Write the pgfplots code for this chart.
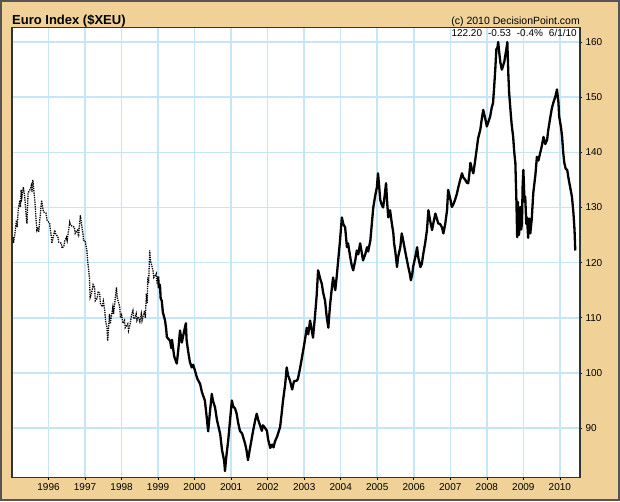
\documentclass[border=0pt]{standalone}
\usepackage{fontspec}
\setmainfont{Liberation Sans}
\usepackage{pgfplots}
\pgfplotsset{compat=1.18}
\definecolor{bgtan}{RGB}{240,210,152}
\definecolor{frame}{RGB}{85,85,85}
\definecolor{gridblue}{RGB}{198,230,248}
\begin{document}
\begin{tikzpicture}[x=1pt,y=1pt]
\fill[bgtan] (0,0) rectangle (620,501);
\draw[frame, line width=2pt] (1,1) rectangle (619,500);
\begin{axis}[
  at={(12pt,23.3pt)}, anchor=south west,
  scale only axis, width=568pt, height=450pt,
  xmin=1995.0, xmax=2010.55, ymin=81, ymax=162.6,
  axis background/.style={fill=white},
  xtick={1996,1997,...,2010},
  ytick={90,100,...,160},
  xticklabel style={/pgf/number format/1000 sep={}},
  /pgf/number format/assume math mode=true,
  tick label style={font=\fontsize{10}{11}\selectfont},
  yticklabel pos=right,
  ytick pos=right, xtick pos=bottom,
  tick align=outside, major tick length=2pt,
  tick style={black, line width=0.6pt},
  grid=major,
  major grid style={gridblue, line width=1.5pt},
  axis line style={black!80, line width=1.3pt},
  clip=true,
]
% early synthetic period, dotted
\addplot[black, densely dotted, line width=1.3pt] table {
1995.03 124.6
1995.04 123.5
1995.08 125.3
1995.12 127.7
1995.14 126.4
1995.17 129.5
1995.21 131.3
1995.23 130.1
1995.25 133.2
1995.27 131.9
1995.31 133.7
1995.35 131.9
1995.39 128.2
1995.41 127.1
1995.44 132.6
1995.49 133.2
1995.53 134.0
1995.55 132.8
1995.57 135.0
1995.59 133.7
1995.63 130.8
1995.66 127.7
1995.68 125.9
1995.71 126.4
1995.73 125.5
1995.81 131.3
1995.84 130.1
1995.86 129.2
1995.93 129.0
1995.96 127.7
1996.03 127.1
1996.05 125.9
1996.08 124.6
1996.09 123.5
1996.17 125.9
1996.19 125.3
1996.26 124.6
1996.28 123.7
1996.35 123.5
1996.37 122.6
1996.42 123.0
1996.45 124.0
1996.49 124.6
1996.51 124.0
1996.58 127.3
1996.60 126.8
1996.71 126.4
1996.73 125.3
1996.80 125.9
1996.82 124.6
1996.87 128.6
1996.89 127.7
1996.94 125.3
1996.96 124.0
1997.00 124.0
1997.05 122.2
1997.07 120.4
1997.10 118.6
1997.12 117.3
1997.13 115.5
1997.14 113.7
1997.18 114.5
1997.22 116.0
1997.26 115.5
1997.28 113.1
1997.33 113.5
1997.36 114.8
1997.40 114.4
1997.42 112.6
1997.47 112.0
1997.50 113.0
1997.54 111.3
1997.56 109.5
1997.60 108.2
1997.62 105.8
1997.67 110.7
1997.69 108.9
1997.76 111.9
1997.78 110.7
1997.86 115.5
1997.88 113.7
1997.95 111.9
1997.97 110.0
1998.00 110.5
1998.04 109.0
1998.08 109.5
1998.10 108.2
1998.13 108.5
1998.17 108.9
1998.19 107.7
1998.24 109.0
1998.27 110.5
1998.31 111.3
1998.33 110.0
1998.36 109.8
1998.40 110.7
1998.42 109.5
1998.46 110.2
1998.50 109.3
1998.54 110.7
1998.56 109.5
1998.59 110.3
1998.63 111.3
1998.65 110.0
1998.68 114.4
1998.70 112.6
1998.72 117.3
1998.74 116.2
1998.77 122.2
1998.79 120.4
1998.86 118.6
1998.88 117.3
1998.91 117.5
1998.95 118.0
1998.97 116.2
};
% euro period, solid
\addplot[black, line width=2.3pt, line join=round] table {
1999.00 117.5
1999.02 115.5
1999.05 116.0
1999.07 113.5
1999.10 113.1
1999.13 111.0
1999.19 109.5
1999.22 108.0
1999.24 106.5
1999.33 105.8
1999.36 104.5
1999.38 106.0
1999.44 103.0
1999.51 101.7
1999.55 104.0
1999.60 107.7
1999.65 105.5
1999.71 107.5
1999.76 109.0
1999.78 106.0
1999.82 104.0
1999.87 102.0
1999.92 101.0
1999.96 101.5
2000.01 100.4
2000.07 99.0
2000.15 98.0
2000.20 96.5
2000.28 95.0
2000.33 92.0
2000.37 89.4
2000.42 93.0
2000.47 96.2
2000.50 95.0
2000.56 93.7
2000.61 91.5
2000.70 88.9
2000.75 86.0
2000.81 84.0
2000.83 82.2
2000.87 85.0
2000.92 87.8
2000.97 91.5
2001.02 95.0
2001.05 94.0
2001.11 93.5
2001.15 92.6
2001.19 91.0
2001.24 89.5
2001.30 89.0
2001.38 87.2
2001.42 86.0
2001.46 84.2
2001.52 86.5
2001.56 88.0
2001.60 89.5
2001.66 91.5
2001.70 92.6
2001.74 91.5
2001.79 90.5
2001.84 89.5
2001.87 90.5
2001.93 90.0
2001.98 89.5
2002.01 88.0
2002.07 86.4
2002.12 87.0
2002.16 86.5
2002.20 87.6
2002.26 88.5
2002.34 90.2
2002.38 92.5
2002.42 95.0
2002.48 98.0
2002.52 101.0
2002.56 99.5
2002.61 98.6
2002.67 97.0
2002.72 98.5
2002.80 98.6
2002.83 99.0
2002.89 101.0
2002.93 102.5
2002.97 104.0
2003.02 106.0
2003.07 108.2
2003.11 107.0
2003.16 109.5
2003.20 108.0
2003.24 106.4
2003.27 108.5
2003.30 110.7
2003.34 114.0
2003.38 118.6
2003.44 117.0
2003.48 116.2
2003.52 114.5
2003.57 113.1
2003.61 110.5
2003.66 108.2
2003.68 110.0
2003.71 112.5
2003.75 115.0
2003.79 117.3
2003.85 115.0
2003.89 117.5
2003.93 120.4
2003.98 124.0
2004.03 128.2
2004.07 127.0
2004.12 126.4
2004.17 122.8
2004.20 123.5
2004.26 121.0
2004.30 119.5
2004.34 118.6
2004.40 120.5
2004.44 122.2
2004.48 121.5
2004.53 123.5
2004.57 122.0
2004.61 120.4
2004.67 121.5
2004.72 122.8
2004.75 122.0
2004.81 124.0
2004.85 127.0
2004.89 130.0
2004.94 132.0
2004.99 133.7
2005.02 136.2
2005.05 134.0
2005.08 131.4
2005.12 130.5
2005.16 130.0
2005.20 132.0
2005.24 134.4
2005.27 131.0
2005.30 128.2
2005.35 129.5
2005.39 127.5
2005.44 125.3
2005.46 123.5
2005.49 122.2
2005.52 120.5
2005.54 119.2
2005.57 121.0
2005.63 122.8
2005.67 125.3
2005.71 124.0
2005.76 122.2
2005.81 120.5
2005.85 119.2
2005.89 118.0
2005.92 116.8
2005.96 118.0
2005.98 119.2
2006.04 121.0
2006.09 122.8
2006.12 121.0
2006.18 119.2
2006.22 119.8
2006.26 121.6
2006.31 123.5
2006.36 125.9
2006.40 129.5
2006.45 127.5
2006.50 125.9
2006.53 127.0
2006.59 128.9
2006.63 128.0
2006.67 127.1
2006.72 127.0
2006.77 126.4
2006.81 125.3
2006.86 127.0
2006.91 129.5
2006.94 133.2
2007.00 131.5
2007.04 130.1
2007.08 130.5
2007.13 131.4
2007.18 132.5
2007.22 133.7
2007.27 135.0
2007.32 136.2
2007.35 135.5
2007.41 135.0
2007.45 134.5
2007.49 134.4
2007.52 136.0
2007.55 138.1
2007.59 137.0
2007.63 136.2
2007.68 138.5
2007.73 141.0
2007.76 142.5
2007.82 144.1
2007.86 146.0
2007.90 147.7
2007.96 146.0
2008.00 144.7
2008.04 145.5
2008.09 146.5
2008.13 148.0
2008.17 149.0
2008.20 151.9
2008.23 155.0
2008.26 158.7
2008.29 159.0
2008.31 160.0
2008.34 158.0
2008.37 156.3
2008.41 155.0
2008.44 155.6
2008.48 156.5
2008.50 157.4
2008.53 158.5
2008.56 160.0
2008.59 153.8
2008.61 150.8
2008.66 146.5
2008.68 145.0
2008.72 142.8
2008.75 140.0
2008.78 138.1
2008.81 131.0
2008.83 124.6
2008.85 131.0
2008.88 125.0
2008.92 130.1
2008.94 126.0
2008.96 127.1
2008.98 134.0
2009.00 136.8
2009.03 131.0
2009.05 132.0
2009.08 127.0
2009.10 128.2
2009.13 124.5
2009.16 128.0
2009.19 125.3
2009.23 128.0
2009.27 132.6
2009.33 136.0
2009.37 139.2
2009.41 138.5
2009.46 139.9
2009.50 141.0
2009.55 142.8
2009.60 141.5
2009.65 142.3
2009.68 144.0
2009.74 146.5
2009.78 148.0
2009.82 149.0
2009.87 150.0
2009.92 151.4
2009.96 149.0
2009.98 146.5
2010.03 144.5
2010.06 142.8
2010.09 140.0
2010.12 138.1
2010.16 137.0
2010.20 136.8
2010.23 135.5
2010.26 134.4
2010.30 133.0
2010.33 131.9
2010.37 129.0
2010.40 125.9
2010.42 122.2
};
\end{axis}
\node[anchor=base west, inner sep=0pt, font=\fontsize{13}{14}\selectfont\bfseries] at (12,476) {Euro Index (\$XEU)};
\node[anchor=base east, inner sep=0pt, font=\fontsize{10.5}{12}\selectfont] at (580,476) {(c) 2010 DecisionPoint.com};
\node[anchor=base east, inner sep=0pt, font=\fontsize{10}{11}\selectfont] at (577,464.3) {122.20\hspace{0.6em}-0.53\hspace{0.6em}-0.4\%\hspace{0.6em}6/1/10};
\end{tikzpicture}
\end{document}
